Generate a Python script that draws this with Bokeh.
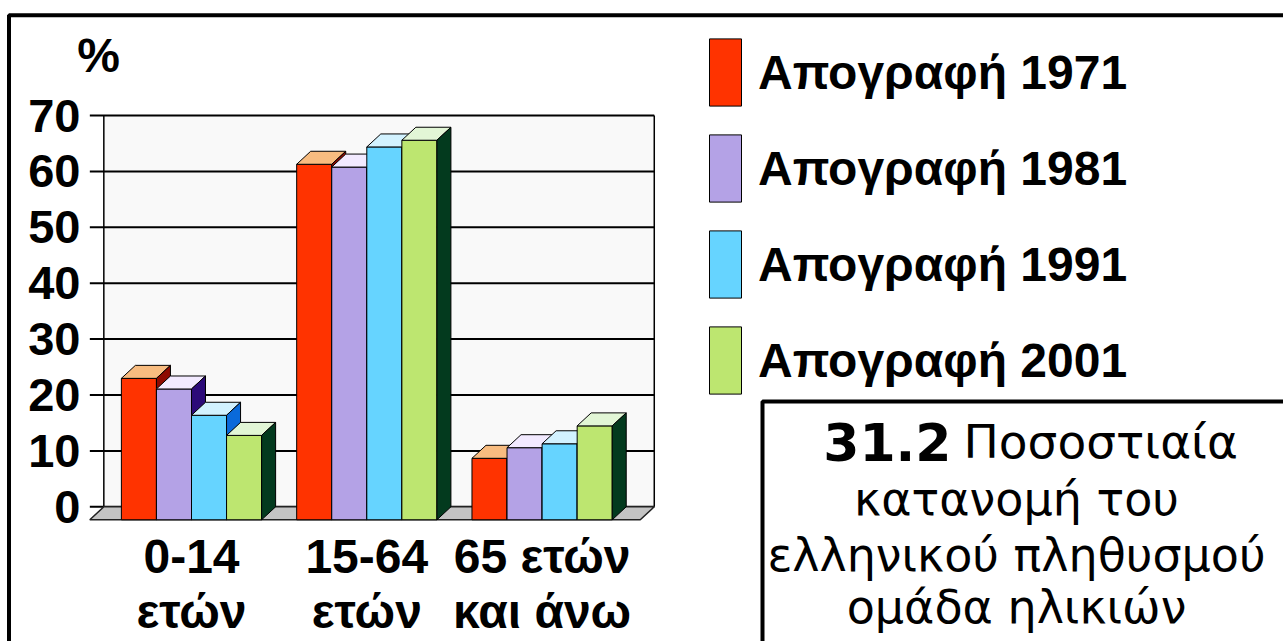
from bokeh.plotting import figure
from bokeh.models import Range1d, Legend, LegendItem
from bokeh.core.properties import value
from bokeh.embed import file_html
from bokeh.resources import INLINE

# ---------------- data ----------------
cat_line1 = ["0-14", "15-64", "65 ετών"]
cat_line2 = ["ετών", "ετών", "και άνω"]
series_names = ["Απογραφή 1971", "Απογραφή 1981", "Απογραφή 1991", "Απογραφή 2001"]
v1971 = [25.3, 63.6, 11.0]
v1981 = [23.4, 63.1, 12.9]
v1991 = [18.7, 66.7, 13.6]
v2001 = [15.1, 67.9, 16.8]
y_ticks = [0, 10, 20, 30, 40, 50, 60, 70]
y_tick_labels = ["0", "10", "20", "30", "40", "50", "60", "70"]
y_unit_label = "%"
title_number = "31.2"
title_first = "Ποσοστιαία"
title_rest = ["κατανομή του", "ελληνικού πληθυσμού", "ομάδα ηλικιών"]

series_values = [v1971, v1981, v1991, v2001]
front_colors = ["#FF3300", "#B4A2E6", "#66D4FF", "#BDE670"]
top_colors = ["#F8BC80", "#F2EAFF", "#D2F2FF", "#E2F6D6"]
side_colors = ["#8E0A00", "#2C0A78", "#0A6ADA", "#033A1E"]

# ---------------- geometry ----------------
W, H = 1283, 641
PAGE = 0
CAT_PX = 175.3      # px per category
CAT0_PX = 205.0     # canvas px of category 0 (back plane)
Y_PX = 5.59         # px per value unit
Y0_PX = H - 506.3   # canvas px (from bottom) of value 0

def X(px_page):
    return (px_page - PAGE - CAT0_PX) / CAT_PX

def Y(py_page):
    return ((H - (py_page - PAGE)) - Y0_PX) / Y_PX

p = figure(width=W, height=H, output_backend="svg", toolbar_location=None,
           x_range=Range1d(X(PAGE), X(PAGE + W)), y_range=Range1d(Y(PAGE + H), Y(PAGE)),
           x_axis_location=None, y_axis_location=None, title=None,
           min_border=0, outline_line_color=None,
           background_fill_color="white", border_fill_color="white")
p.grid.visible = False

dx = 14 / CAT_PX
dy = 13 / Y_PX
bw = 0.2
wall_l, wall_r = -0.58, 2.56
top_v = y_ticks[-1]

# back wall
p.quad(left=[wall_l], right=[wall_r], bottom=[0], top=[top_v],
       fill_color="#F9F9F9", line_color=None)
# gridlines
p.segment(x0=[wall_l - dx] * len(y_ticks), x1=[wall_r] * len(y_ticks),
          y0=y_ticks, y1=y_ticks, line_color="black", line_width=2)
p.segment(x0=[wall_l, wall_r], x1=[wall_l, wall_r], y0=[0, 0], y1=[top_v, top_v],
          line_color="black", line_width=1.5)
# floor
p.patches(xs=[[wall_l - dx, wall_r - dx, wall_r, wall_l]], ys=[[-dy, -dy, 0, 0]],
          fill_color="#C4C4C4", line_color="#222222", line_width=1.5)

# bars
legend_items = []
for j, vals in enumerate(series_values):
    xl = [i - 0.4 + bw * j for i in range(len(vals))]
    fr = p.quad(left=[x - dx for x in xl], right=[x + bw - dx for x in xl],
                bottom=[-dy] * len(vals), top=[v - dy for v in vals],
                fill_color=front_colors[j], line_color="black", line_width=1)
    p.patches(xs=[[x - dx, x + bw - dx, x + bw, x] for x in xl],
              ys=[[v - dy, v - dy, v, v] for v in vals],
              fill_color=top_colors[j], line_color="black", line_width=1)
    p.patches(xs=[[x + bw - dx, x + bw, x + bw, x + bw - dx] for x in xl],
              ys=[[-dy, 0, v, v - dy] for v in vals],
              fill_color=side_colors[j], line_color="black", line_width=1)
    legend_items.append(LegendItem(label=series_names[j], renderers=[fr]))

# y tick labels
bold = value("Liberation Sans")
p.text(x=[X(80)] * len(y_ticks), y=y_ticks, text=y_tick_labels,
       text_font=bold, text_font_style="bold", text_font_size="47px",
       text_align="right", text_baseline="middle", text_color="black")
p.text(x=[X(98)], y=[Y(55)], text=[y_unit_label],
       text_font=bold, text_font_style="bold", text_font_size="48px",
       text_align="center", text_baseline="middle", text_color="black")

# category labels
cx = [i - dx for i in range(len(cat_line1))]
p.text(x=cx, y=[Y(556)] * 3, text=cat_line1,
       text_font=bold, text_font_style="bold", text_font_size="48px",
       text_align="center", text_baseline="middle", text_color="black")
p.text(x=cx, y=[Y(611)] * 3, text=cat_line2,
       text_font=bold, text_font_style="bold", text_font_size="48px",
       text_align="center", text_baseline="middle", text_color="black")

# legend (area legend glyphs are inset by 10% on each side)
legend = Legend(items=legend_items, location=(705, H - 402), orientation="vertical",
                glyph_width=40, glyph_height=84, spacing=12, padding=0, margin=0,
                label_standoff=13, label_text_font="Liberation Sans",
                label_text_font_style="bold", label_text_font_size="48px",
                label_text_color="black",
                label_height=84, border_line_color=None, background_fill_alpha=0)
p.add_layout(legend)

# outer frame and caption box
p.line(x=[X(1300), X(8.5), X(8.5)], y=[Y(14.7), Y(14.7), Y(700)],
       line_color="black", line_width=4)
p.line(x=[X(762), X(762), X(1300)], y=[Y(700), Y(401), Y(401)],
       line_color="black", line_width=4)

dv = value("DejaVu Sans")
p.text(x=[X(951)], y=[Y(441)], text=[title_number], text_font=dv,
       text_font_style="bold", text_font_size="52px", text_align="right",
       text_baseline="middle", text_color="black")
p.text(x=[X(963)], y=[Y(441)], text=[title_first], text_font=dv,
       text_font_size="47px", text_align="left",
       text_baseline="middle", text_color="black")
p.text(x=[X(1016)] * 3, y=[Y(498), Y(554), Y(606)], text=title_rest, text_font=dv,
       text_font_size="46px", text_align="center",
       text_baseline="middle", text_color="black")

open("out.html", "w").write(file_html(p, INLINE))
